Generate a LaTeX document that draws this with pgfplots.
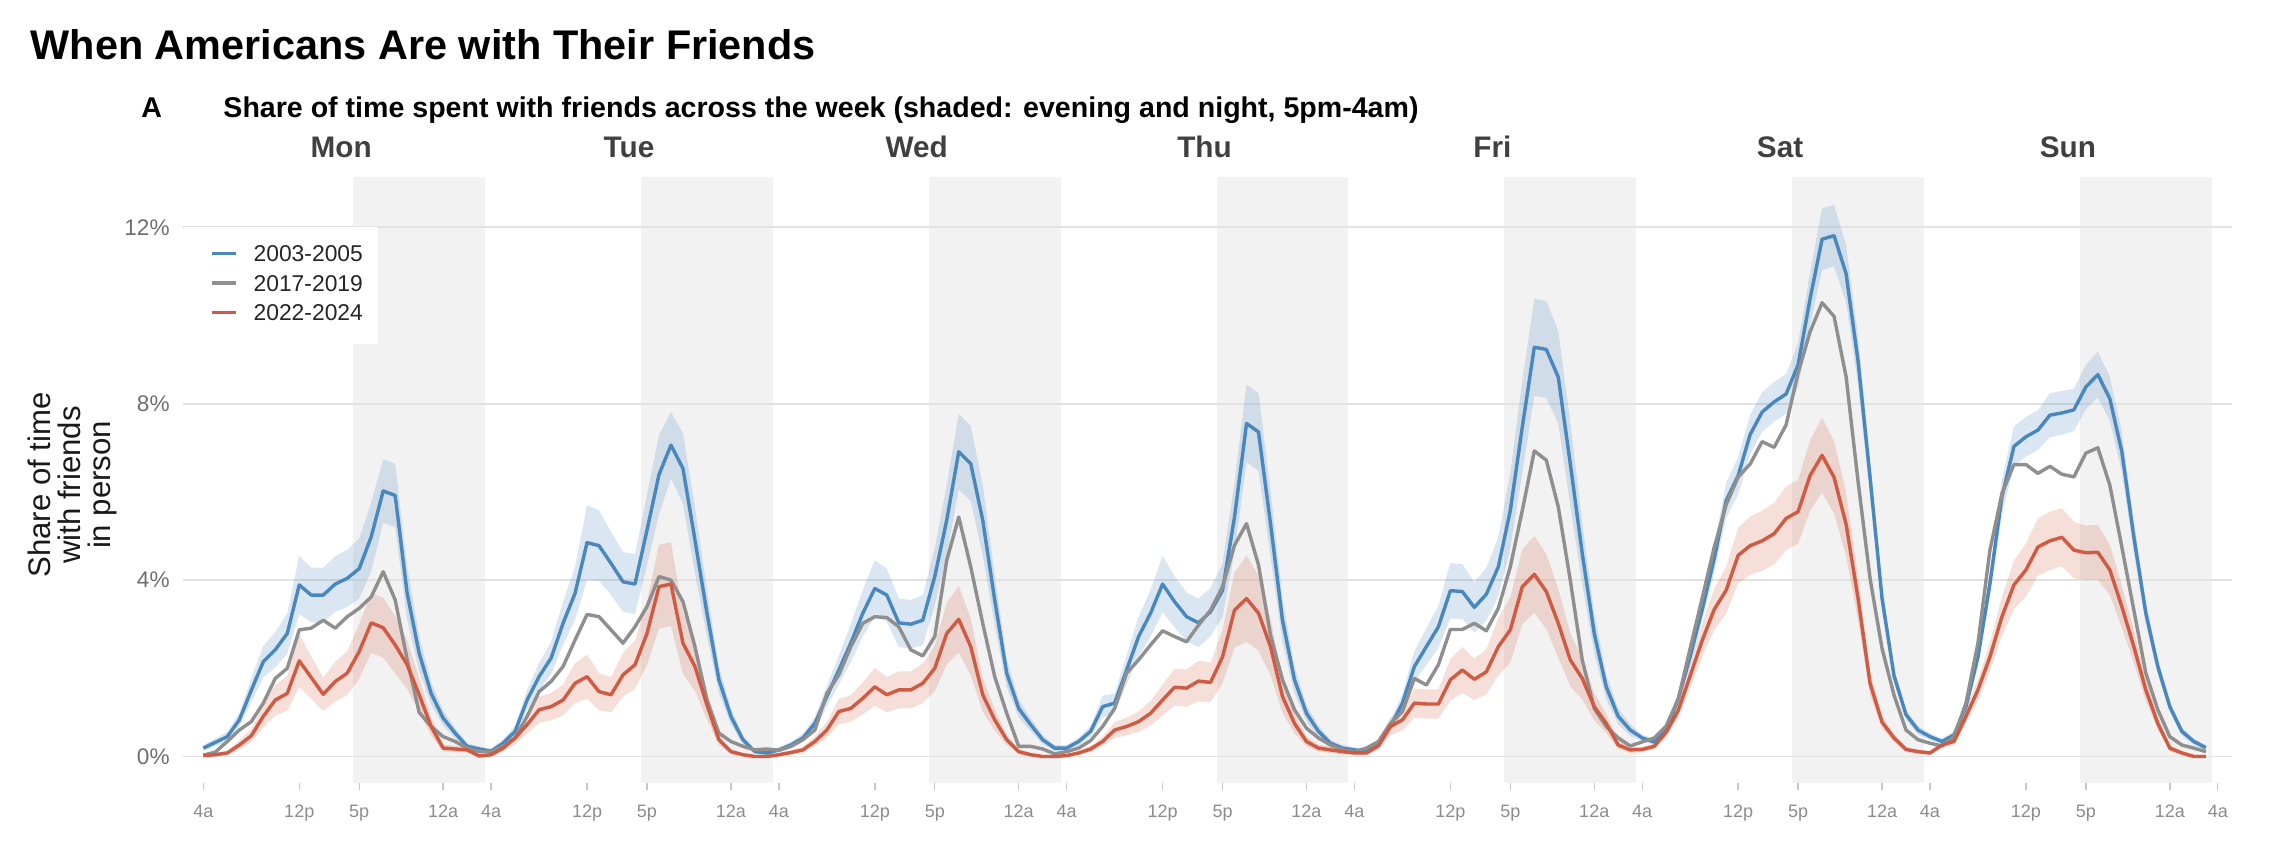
\documentclass[border=0pt]{standalone}
\usepackage{fontspec}
\setmainfont{Liberation Sans}
\usepackage{pgfplots}
\usepackage{pgfplotstable}
\pgfplotsset{compat=1.18}
\usepgfplotslibrary{fillbetween}
\definecolor{cblue}{RGB}{72,136,190}
\definecolor{cgray}{RGB}{143,143,143}
\definecolor{cred}{RGB}{208,90,66}
\definecolor{shade}{RGB}{242,242,242}
\definecolor{gridc}{RGB}{226,226,226}
\definecolor{daytext}{RGB}{64,64,64}
\definecolor{ytl}{RGB}{110,110,110}
\definecolor{xtl}{RGB}{140,140,140}

% x = hours since Monday 4am; b = 2003-2005 (be = band half-width), g = 2017-2019, r = 2022-2024 (re = band half-width)
\pgfplotstableread{
x b be g r re
0 0.19 0.07 0.03 0.02 0.04
1 0.32 0.09 0.10 0.04 0.04
2 0.45 0.11 0.34 0.08 0.05
3 0.83 0.16 0.60 0.26 0.10
4 1.50 0.27 0.79 0.47 0.15
5 2.15 0.36 1.21 0.91 0.26
6 2.42 0.40 1.77 1.28 0.35
7 2.79 0.46 2.00 1.43 0.39
8 3.89 0.66 2.87 2.17 0.60
9 3.66 0.62 2.91 1.79 0.48
10 3.66 0.62 3.09 1.41 0.38
11 3.91 0.63 2.91 1.70 0.45
12 4.04 0.65 3.17 1.89 0.50
13 4.26 0.68 3.36 2.38 0.62
14 4.98 0.78 3.62 3.03 0.68
15 6.02 0.72 4.19 2.92 0.68
16 5.92 0.72 3.55 2.53 0.65
17 3.70 0.60 2.20 2.08 0.55
18 2.34 0.40 1.00 1.40 0.38
19 1.43 0.25 0.68 0.68 0.20
20 0.87 0.17 0.45 0.19 0.08
21 0.53 0.12 0.34 0.17 0.07
22 0.23 0.07 0.19 0.15 0.06
23 0.17 0.06 0.11 0.01 0.03
24 0.12 0.06 0.11 0.04 0.04
25 0.30 0.09 0.23 0.19 0.08
26 0.57 0.13 0.42 0.42 0.14
27 1.28 0.23 0.91 0.72 0.21
28 1.81 0.31 1.47 1.06 0.30
29 2.23 0.37 1.70 1.13 0.31
30 3.02 0.49 2.04 1.28 0.35
31 3.70 0.60 2.64 1.66 0.45
32 4.85 0.85 3.22 1.81 0.50
33 4.78 0.80 3.17 1.47 0.42
34 4.38 0.72 2.87 1.40 0.40
35 3.96 0.68 2.57 1.85 0.50
36 3.91 0.68 2.94 2.08 0.55
37 5.13 0.80 3.40 2.79 0.72
38 6.39 0.90 4.08 3.85 0.95
39 7.06 0.75 4.00 3.91 0.95
40 6.53 0.80 3.51 2.57 0.70
41 4.91 0.75 2.49 2.04 0.55
42 3.25 0.52 1.28 1.17 0.32
43 1.74 0.30 0.53 0.38 0.12
44 0.91 0.18 0.34 0.11 0.06
45 0.38 0.10 0.23 0.04 0.04
46 0.11 0.05 0.15 0.00 0.03
47 0.08 0.05 0.17 0.00 0.03
48 0.15 0.06 0.14 0.04 0.04
49 0.26 0.08 0.23 0.09 0.05
50 0.42 0.10 0.38 0.15 0.07
51 0.75 0.15 0.60 0.34 0.11
52 1.36 0.24 1.43 0.60 0.18
53 1.96 0.33 1.85 1.02 0.29
54 2.57 0.43 2.49 1.09 0.30
55 3.25 0.53 3.02 1.32 0.36
56 3.81 0.64 3.17 1.58 0.43
57 3.66 0.60 3.15 1.40 0.40
58 3.03 0.55 2.94 1.51 0.42
59 3.00 0.55 2.42 1.51 0.42
60 3.09 0.57 2.28 1.66 0.45
61 4.08 0.65 2.72 2.00 0.52
62 5.36 0.80 4.45 2.79 0.70
63 6.91 0.86 5.43 3.11 0.75
64 6.64 0.85 4.30 2.49 0.65
65 5.36 0.80 3.02 1.40 0.38
66 3.55 0.57 1.81 0.83 0.24
67 1.89 0.32 0.98 0.38 0.12
68 1.09 0.20 0.23 0.11 0.06
69 0.72 0.15 0.23 0.04 0.04
70 0.38 0.10 0.17 0.00 0.03
71 0.19 0.07 0.06 0.00 0.03
72 0.19 0.07 0.11 0.02 0.03
73 0.34 0.09 0.19 0.08 0.05
74 0.57 0.13 0.36 0.17 0.07
75 1.13 0.25 0.68 0.34 0.11
76 1.21 0.22 1.09 0.60 0.18
77 1.96 0.33 1.89 0.68 0.20
78 2.72 0.45 2.19 0.79 0.23
79 3.25 0.53 2.53 0.98 0.28
80 3.91 0.64 2.85 1.28 0.35
81 3.51 0.58 2.72 1.57 0.42
82 3.17 0.55 2.60 1.55 0.42
83 3.03 0.55 2.98 1.71 0.46
84 3.28 0.55 3.32 1.68 0.45
85 3.77 0.60 3.85 2.26 0.60
86 5.43 0.80 4.79 3.32 0.85
87 7.55 0.88 5.28 3.58 0.98
88 7.36 0.88 4.34 3.25 0.85
89 5.28 0.75 2.75 2.49 0.65
90 3.09 0.50 1.74 1.36 0.37
91 1.74 0.30 1.06 0.75 0.22
92 0.98 0.19 0.64 0.34 0.11
93 0.57 0.13 0.42 0.19 0.08
94 0.30 0.08 0.26 0.15 0.07
95 0.19 0.07 0.15 0.11 0.06
96 0.15 0.06 0.11 0.08 0.05
97 0.11 0.06 0.19 0.08 0.05
98 0.30 0.08 0.34 0.24 0.09
99 0.68 0.14 0.75 0.68 0.20
100 1.21 0.22 1.02 0.83 0.24
101 2.04 0.35 1.77 1.21 0.33
102 2.49 0.42 1.62 1.19 0.33
103 2.94 0.48 2.08 1.19 0.33
104 3.76 0.63 2.88 1.74 0.47
105 3.74 0.62 2.88 1.96 0.52
106 3.38 0.57 3.02 1.75 0.47
107 3.68 0.60 2.85 1.92 0.51
108 4.30 0.68 3.36 2.49 0.65
109 5.58 0.85 4.30 2.87 0.74
110 7.47 1.05 5.58 3.85 0.85
111 9.28 1.10 6.93 4.13 0.87
112 9.23 1.10 6.72 3.74 0.85
113 8.60 1.05 5.66 3.02 0.78
114 6.64 0.95 4.00 2.19 0.60
115 4.60 0.70 2.19 1.77 0.48
116 2.79 0.46 1.09 1.13 0.31
117 1.58 0.28 0.68 0.75 0.22
118 0.91 0.18 0.42 0.26 0.09
119 0.60 0.13 0.24 0.15 0.07
120 0.42 0.08 0.33 0.16 0.06
121 0.33 0.07 0.42 0.23 0.07
122 0.60 0.09 0.69 0.55 0.11
123 1.30 0.13 1.30 1.04 0.18
124 2.27 0.19 2.45 1.83 0.28
125 3.33 0.25 3.59 2.63 0.38
126 4.48 0.32 4.74 3.33 0.47
127 5.80 0.40 5.71 3.77 0.53
128 6.37 0.43 6.34 4.56 0.63
129 7.30 0.45 6.63 4.78 0.66
130 7.81 0.45 7.14 4.89 0.68
131 8.04 0.45 7.01 5.05 0.70
132 8.22 0.45 7.52 5.40 0.72
133 8.88 0.50 8.70 5.55 0.72
134 10.38 0.60 9.63 6.37 0.80
135 11.73 0.70 10.29 6.83 0.85
136 11.81 0.70 9.98 6.33 0.82
137 10.95 0.65 8.62 5.27 0.72
138 8.97 0.55 6.24 3.59 0.50
139 6.33 0.42 4.04 1.66 0.26
140 3.59 0.27 2.45 0.78 0.14
141 1.83 0.16 1.39 0.42 0.09
142 0.95 0.11 0.60 0.16 0.06
143 0.60 0.09 0.38 0.11 0.05
144 0.45 0.08 0.30 0.08 0.05
145 0.34 0.07 0.24 0.26 0.07
146 0.49 0.08 0.45 0.34 0.08
147 1.13 0.12 1.21 0.91 0.16
148 2.26 0.19 2.57 1.51 0.24
149 3.92 0.29 4.68 2.26 0.33
150 5.89 0.40 5.96 3.17 0.45
151 7.03 0.45 6.62 3.89 0.55
152 7.25 0.45 6.62 4.23 0.60
153 7.40 0.45 6.42 4.75 0.65
154 7.74 0.50 6.58 4.89 0.66
155 7.79 0.50 6.40 4.97 0.66
156 7.86 0.48 6.34 4.68 0.64
157 8.38 0.50 6.88 4.62 0.62
158 8.66 0.52 7.00 4.63 0.62
159 8.11 0.50 6.15 4.23 0.57
160 6.91 0.45 4.75 3.40 0.48
161 4.98 0.35 3.32 2.49 0.37
162 3.25 0.25 1.89 1.51 0.24
163 2.04 0.17 1.06 0.75 0.14
164 1.13 0.12 0.45 0.19 0.07
165 0.57 0.09 0.26 0.08 0.05
166 0.34 0.07 0.19 0.00 0.04
167 0.20 0.06 0.11 0.00 0.04
}\data

\begin{document}
\begin{tikzpicture}
\path (0,0) rectangle (800pt,296pt);
\node[anchor=base west, inner sep=0pt, font=\fontsize{14.5}{17}\selectfont\bfseries] at (10.5pt,275.2pt) {When Americans Are with Their Friends};
\node[anchor=base west, inner sep=0pt, font=\fontsize{10}{12}\selectfont\bfseries] at (49.3pt,254.7pt) {A};
\node[anchor=base west, inner sep=0pt, font=\fontsize{10}{12}\selectfont\bfseries] at (78pt,254.7pt) {Share of time spent with friends across the week (shaded: evening and night, 5pm-4am)};
\node[rotate=90, align=center, inner sep=0pt, font=\fontsize{10.9}{10.5}\selectfont, text=black!90] at (25.2pt,126.3pt) {Share of time\\with friends\\in person};
\begin{axis}[
  at={(64.15pt,22pt)}, anchor=south west,
  width=717pt, height=212.2pt, scale only axis,
  xmin=-1.67, xmax=169.2, ymin=-0.6, ymax=13.15,
  set layers, clip=false,
  axis line style={draw=none},
  ytick={0,4,8,12}, yticklabels={0\%,4\%,8\%,12\%},
  ymajorgrids, grid style={gridc, line width=0.6pt},
  ytick style={draw=none},
  yticklabel style={anchor=east, inner sep=0pt, xshift=-4.6pt, font=\fontsize{7.9}{9}\selectfont, text=ytl},
  xtick={0,8,13,20,24,32,37,44,48,56,61,68,72,80,85,92,96,104,109,116,120,128,133,140,144,152,157,164,168},
  xticklabels={4a,12p,5p,12a,4a,12p,5p,12a,4a,12p,5p,12a,4a,12p,5p,12a,4a,12p,5p,12a,4a,12p,5p,12a,4a,12p,5p,12a,4a},
  xtick pos=bottom, xtick align=outside, major tick length=2.6pt,
  xtick style={draw=gray!45, line width=0.5pt},
  xticklabel style={anchor=base, inner sep=0pt, yshift=-9.65pt, font=\fontsize{6.3}{7}\selectfont, text=xtl},
]
% evening / night shading, 5pm-4am of each day
\addplot[fill=shade, draw=none, forget plot, on layer=axis background] coordinates {(12.5,-0.6) (23.5,-0.6) (23.5,13.15) (12.5,13.15)} -- cycle;
\addplot[fill=shade, draw=none, forget plot, on layer=axis background] coordinates {(36.5,-0.6) (47.5,-0.6) (47.5,13.15) (36.5,13.15)} -- cycle;
\addplot[fill=shade, draw=none, forget plot, on layer=axis background] coordinates {(60.5,-0.6) (71.5,-0.6) (71.5,13.15) (60.5,13.15)} -- cycle;
\addplot[fill=shade, draw=none, forget plot, on layer=axis background] coordinates {(84.5,-0.6) (95.5,-0.6) (95.5,13.15) (84.5,13.15)} -- cycle;
\addplot[fill=shade, draw=none, forget plot, on layer=axis background] coordinates {(108.5,-0.6) (119.5,-0.6) (119.5,13.15) (108.5,13.15)} -- cycle;
\addplot[fill=shade, draw=none, forget plot, on layer=axis background] coordinates {(132.5,-0.6) (143.5,-0.6) (143.5,13.15) (132.5,13.15)} -- cycle;
\addplot[fill=shade, draw=none, forget plot, on layer=axis background] coordinates {(156.5,-0.6) (167.5,-0.6) (167.5,13.15) (156.5,13.15)} -- cycle;

% confidence bands
\addplot[draw=none, name path=bu, forget plot] table[x=x, y expr={\thisrow{b}+\thisrow{be}}] {\data};
\addplot[draw=none, name path=bl, forget plot] table[x=x, y expr={\thisrow{b}-\thisrow{be}}] {\data};
\addplot[fill=cblue, fill opacity=0.2, draw=none, forget plot] fill between[of=bu and bl];
\addplot[draw=none, name path=ru, forget plot] table[x=x, y expr={\thisrow{r}+\thisrow{re}}] {\data};
\addplot[draw=none, name path=rl, forget plot] table[x=x, y expr={max(\thisrow{r}-\thisrow{re},0)}] {\data};
\addplot[fill=cred, fill opacity=0.2, draw=none, forget plot] fill between[of=ru and rl];

% lines
\addplot[cblue, line width=1.2pt, line join=round] table[x=x, y=b] {\data};
\addplot[cgray, line width=1.2pt, line join=round] table[x=x, y=g] {\data};
\addplot[cred, line width=1.2pt, line join=round] table[x=x, y=r] {\data};

% day labels
\node[anchor=base, inner sep=0pt, yshift=6.5pt, font=\fontsize{10.4}{12}\selectfont\bfseries, text=daytext] at (axis cs:11.5,13.15) {Mon};
\node[anchor=base, inner sep=0pt, yshift=6.5pt, font=\fontsize{10.4}{12}\selectfont\bfseries, text=daytext] at (axis cs:35.5,13.15) {Tue};
\node[anchor=base, inner sep=0pt, yshift=6.5pt, font=\fontsize{10.4}{12}\selectfont\bfseries, text=daytext] at (axis cs:59.5,13.15) {Wed};
\node[anchor=base, inner sep=0pt, yshift=6.5pt, font=\fontsize{10.4}{12}\selectfont\bfseries, text=daytext] at (axis cs:83.5,13.15) {Thu};
\node[anchor=base, inner sep=0pt, yshift=6.5pt, font=\fontsize{10.4}{12}\selectfont\bfseries, text=daytext] at (axis cs:107.5,13.15) {Fri};
\node[anchor=base, inner sep=0pt, yshift=6.5pt, font=\fontsize{10.4}{12}\selectfont\bfseries, text=daytext] at (axis cs:131.5,13.15) {Sat};
\node[anchor=base, inner sep=0pt, yshift=6.5pt, font=\fontsize{10.4}{12}\selectfont\bfseries, text=daytext] at (axis cs:155.5,13.15) {Sun};

% legend
\node[fill=white, anchor=north west, inner xsep=0pt, inner ysep=5pt, font=\fontsize{8}{10.25}\selectfont, text=black!85] at (rel axis cs:0,0.9175) {%
  \begin{tabular}{@{\hspace{10pt}}l@{\hspace{6.2pt}}l@{\hspace{5.3pt}}}
  \textcolor{cblue}{\rule[2.3pt]{8.2pt}{1.2pt}} & 2003-2005\\
  \textcolor{cgray}{\rule[2.3pt]{8.2pt}{1.2pt}} & 2017-2019\\
  \textcolor{cred}{\rule[2.3pt]{8.2pt}{1.2pt}} & 2022-2024
  \end{tabular}};
\end{axis}
\end{tikzpicture}
\end{document}
